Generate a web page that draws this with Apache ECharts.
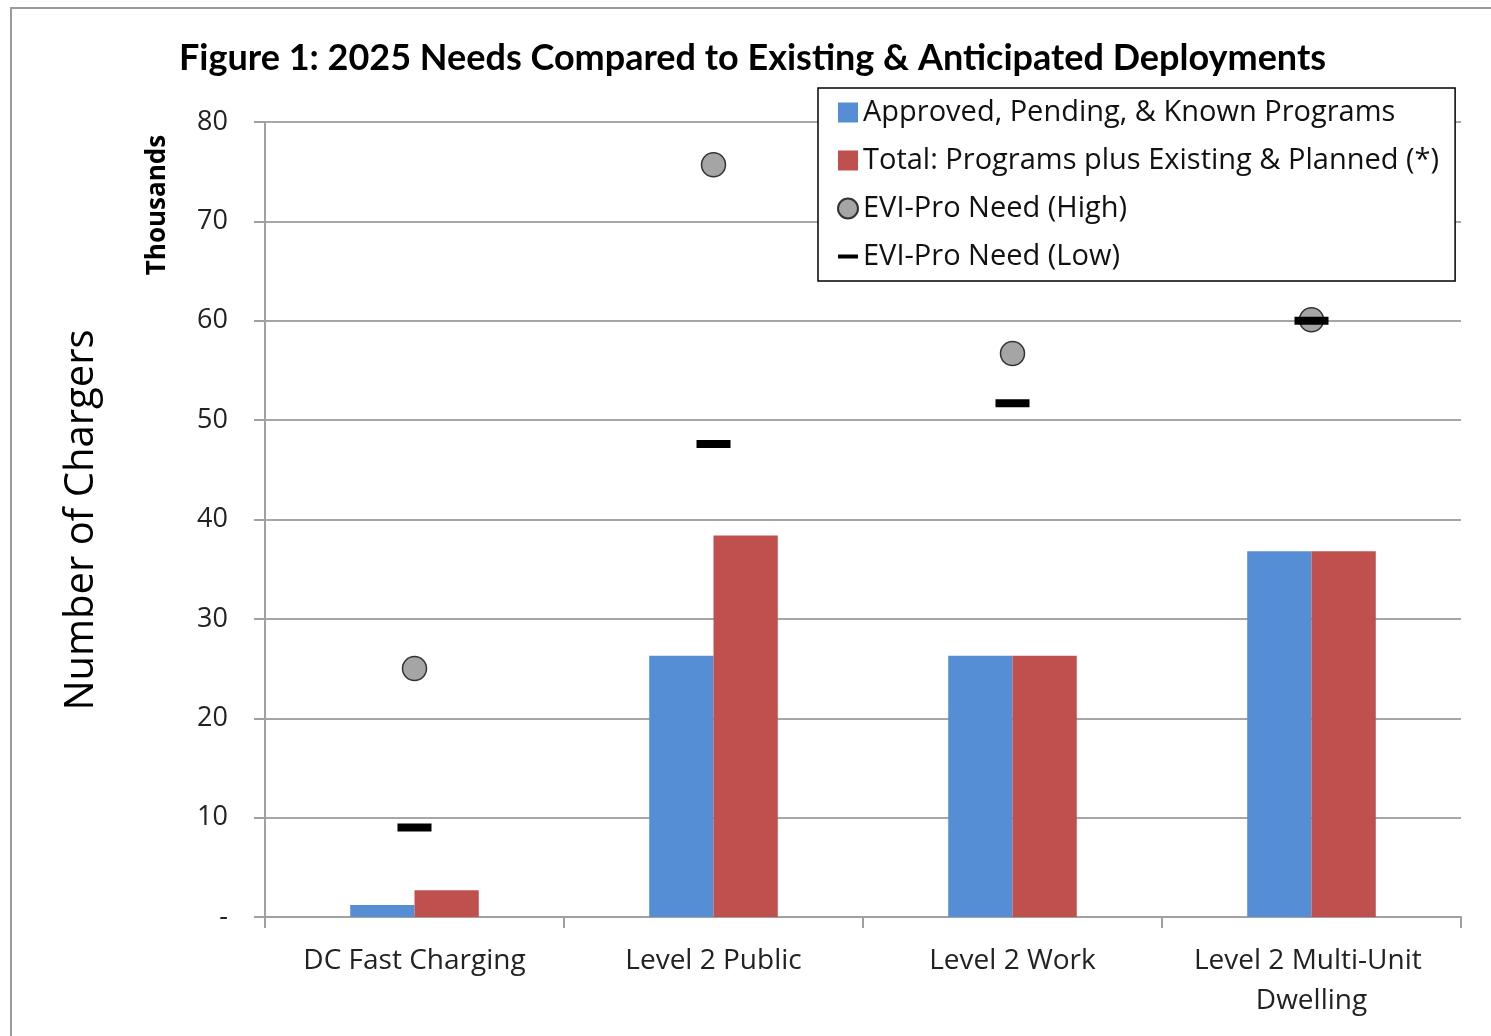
<!DOCTYPE html>
<html>
<head>
<meta charset="utf-8">
<title>Figure 1</title>
<script src="https://cdn.jsdelivr.net/npm/echarts@6/dist/echarts.min.js"></script>
<style>
  html, body { margin: 0; padding: 0; background: #fff; }
  #chart { width: 1491px; height: 1036px; }
</style>
</head>
<body>
<div id="chart"></div>
<script>
// values in thousands of chargers
const categories = ['DC Fast Charging', 'Level 2 Public', 'Level 2 Work', 'Level 2 Multi-Unit Dwelling'];
const approved = [1.2, 26.3, 26.3, 36.8];
const total = [2.7, 38.4, 26.3, 36.8];
const needHigh = [25.0, 75.7, 56.7, 60.1];
const needLow = [9.0, 47.6, 51.7, 60.0];
const yTicks = [0, 10, 20, 30, 40, 50, 60, 70, 80];

const seriesNames = [
    'Approved, Pending, & Known Programs',
    'Total: Programs plus Existing & Planned (*)',
    'EVI-Pro Need (High)',
    'EVI-Pro Need (Low)'
];

const font = 'Open Sans';
const chart = echarts.init(document.getElementById('chart'));

const option = {
    animation: false,
    backgroundColor: '#fff',
    title: {
        text: 'Figure 1: 2025 Needs Compared to Existing & Anticipated Deployments',
        left: 174,
        top: 35,
        textStyle: { fontFamily: 'Lato', fontWeight: 'bold', fontSize: 36, color: '#000' }
    },
    grid: { left: 265, right: 30, top: 122, bottom: 119 },
    legend: {
        orient: 'vertical',
        left: 818,
        top: 88,
        padding: [10, 16, 10, 19],
        itemGap: 19,
        itemWidth: 20,
        itemHeight: 20,
        backgroundColor: '#fff',
        borderColor: '#000',
        borderWidth: 1.5,
        z: 20,
        textStyle: { fontFamily: font, fontSize: 29, color: '#111' },
        data: [
            { name: seriesNames[0], icon: 'rect' },
            { name: seriesNames[1], icon: 'rect' },
            { name: seriesNames[2], icon: 'circle' },
            { name: seriesNames[3], icon: 'path://M0,0 L10,0 L10,2 L0,2 Z' }
        ]
    },
    xAxis: {
        type: 'category',
        data: categories,
        axisLine: { lineStyle: { color: '#a0a0a0', width: 2 } },
        axisTick: { show: true, interval: 0, length: 11, lineStyle: { color: '#a0a0a0', width: 2 } },
        axisLabel: {
            interval: 0,
            margin: 24,
            fontFamily: font,
            fontSize: 28,
            color: '#222',
            lineHeight: 40,
            width: 290,
            overflow: 'break'
        }
    },
    yAxis: {
        type: 'value',
        min: 0,
        max: 80,
        interval: 10,
        axisLine: { show: true, lineStyle: { color: '#a0a0a0', width: 2 } },
        axisTick: { show: true, length: 11, lineStyle: { color: '#a0a0a0', width: 2 } },
        splitLine: { lineStyle: { color: '#a6a6a6', width: 2 } },
        axisLabel: {
            margin: 37,
            fontFamily: font,
            fontSize: 27,
            color: '#222',
            formatter: v => (yTicks.indexOf(v) === 0 ? '-' : String(v))
        }
    },
    graphic: [
        {
            type: 'rect',
            z: -1,
            shape: { x: 11, y: 8, width: 1500, height: 1100 },
            style: { fill: 'none', stroke: '#9a9a9a', lineWidth: 2 }
        },
        {
            type: 'text',
            x: 82,
            y: 520,
            rotation: Math.PI / 2,
            style: {
                text: 'Number of Chargers',
                fontFamily: font,
                fontSize: 40,
                fill: '#000',
                align: 'center',
                verticalAlign: 'middle'
            }
        },
        {
            type: 'text',
            x: 158,
            y: 205,
            rotation: Math.PI / 2,
            style: {
                text: 'Thousands',
                fontFamily: font,
                fontWeight: 'bold',
                fontSize: 26,
                fill: '#000',
                align: 'center',
                verticalAlign: 'middle'
            }
        }
    ],
    series: [
        {
            name: seriesNames[0],
            type: 'bar',
            data: approved,
            barGap: '0%',
            barCategoryGap: '57%',
            itemStyle: { color: '#558ed5' }
        },
        {
            name: seriesNames[1],
            type: 'bar',
            data: total,
            itemStyle: { color: '#c0504d' }
        },
        {
            name: seriesNames[2],
            type: 'scatter',
            data: needHigh,
            symbol: 'circle',
            symbolSize: 24,
            z: 5,
            itemStyle: { color: '#a5a5a5', borderColor: '#333', borderWidth: 1.5, opacity: 1 }
        },
        {
            name: seriesNames[3],
            type: 'scatter',
            data: needLow,
            symbol: 'rect',
            symbolSize: [34, 8],
            z: 6,
            itemStyle: { color: '#000', opacity: 1 }
        }
    ]
};

chart.setOption(option);
</script>
</body>
</html>
